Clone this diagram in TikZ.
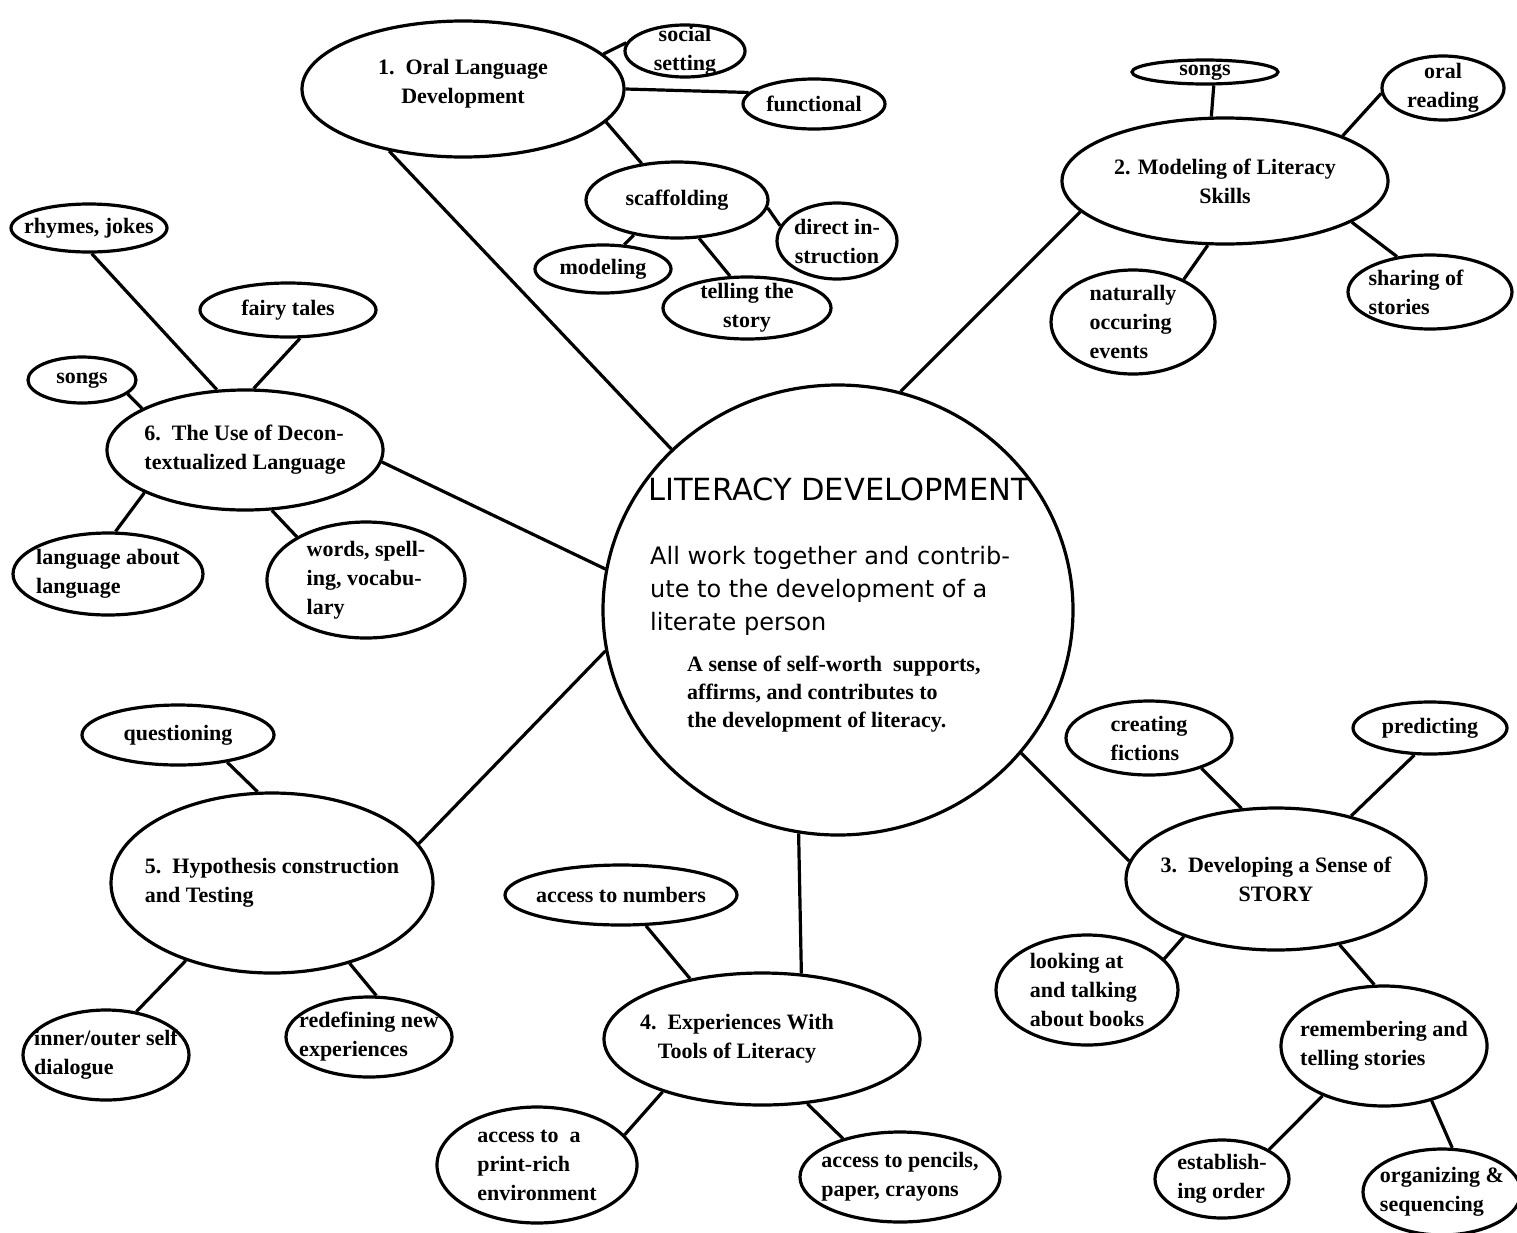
\documentclass[tikz,border=0pt]{standalone}
\usepackage{fontspec}
\setmainfont{Liberation Serif}
\newfontfamily\gothfont{DejaVu Sans}
\usetikzlibrary{shapes.geometric}
\tikzset{
    hubbox/.style={ellipse, draw, line width=3.2pt, inner sep=0pt, minimum width=470, minimum height=450},
    ideabox/.style={ellipse, draw, line width=3.2pt, inner sep=0pt},
    idea/.style={font=\bfseries\fontsize{22}{29}\selectfont, align=center, inner sep=0pt},
    ideal/.style={idea, align=left},
    hubtitle/.style={font=\gothfont\fontsize{30.5}{36}\selectfont, inner sep=0pt},
    hubtext/.style={font=\gothfont\fontsize{24}{33}\selectfont, align=left, inner sep=0pt},
    hubnote/.style={font=\bfseries\fontsize{22}{28}\selectfont, align=left, inner sep=0pt},
    link/.style={line width=3.2pt},
}
\begin{document}
\begin{tikzpicture}[x=1pt, y=-1pt]
    \useasboundingbox (0,0) rectangle (1517,1232);

    \node[hubbox] (lit) at (838,610) {};
    \node[hubtitle, anchor=base west] (littitle) at (648,500) {LITERACY DEVELOPMENT};
    \node[hubtext, anchor=north west] (littext) at (650,546) {All work together and contrib-\\ute to the development of a\\literate person};
    \node[hubnote, anchor=north west] (litnote) at (687,656) {A sense of self-worth\ \ supports,\\affirms, and contributes to\\the development of literacy.};

    \node[ideabox, minimum width=322, minimum height=136, label={[idea, yshift=5]center:{1.\ \ Oral Language\\Development}}] (oral) at (463,89) {};
    \node[ideabox, minimum width=120, minimum height=52, label={[idea]center:{social\\setting}}] (social) at (685,51) {};
    \node[ideabox, minimum width=142, minimum height=50, label={[idea]center:functional}] (func) at (814,104) {};
    \node[ideabox, minimum width=182, minimum height=76, label={[idea]center:scaffolding}] (scaf) at (677,200) {};
    \node[ideabox, minimum width=120, minimum height=76, label={[idea]center:{direct in-\\struction}}] (direct) at (837,241) {};
    \node[ideabox, minimum width=136, minimum height=48, label={[idea]center:modeling}] (modl) at (603,269) {};
    \node[ideabox, minimum width=168, minimum height=62, label={[idea]center:{telling the\\story}}] (tell) at (747,308) {};

    \node[ideabox, minimum width=326, minimum height=126, label={[idea]center:{2. Modeling of Literacy\\Skills}}] (mod) at (1225,181) {};
    \node[ideabox, minimum width=146, minimum height=24, label={[idea]center:songs}] (songsa) at (1205,72) {};
    \node[ideabox, minimum width=122, minimum height=64, label={[idea]center:{oral\\reading}}] (oralrd) at (1443,88) {};
    \node[ideabox, minimum width=164, minimum height=104, label={[ideal]center:{naturally\\occuring\\events}}] (natural) at (1133,322) {};
    \node[ideabox, minimum width=164, minimum height=74, label={[ideal, xshift=-14]center:{sharing of\\stories}}] (sharing) at (1430,292) {};

    \node[ideabox, minimum width=276, minimum height=120, label={[ideal]center:{6.\ \ The Use of Decon-\\textualized Language}}] (decon) at (245,450) {};
    \node[ideabox, minimum width=156, minimum height=48, label={[idea]center:{rhymes, jokes}}] (rhymes) at (89,228) {};
    \node[ideabox, minimum width=176, minimum height=54, label={[idea]center:{fairy tales}}] (fairy) at (288,310) {};
    \node[ideabox, minimum width=108, minimum height=46, label={[idea]center:songs}] (songsb) at (82,380) {};
    \node[ideabox, minimum width=190, minimum height=82, label={[ideal]center:{language about\\language}}] (langab) at (108,574) {};
    \node[ideabox, minimum width=198, minimum height=116, label={[ideal]center:{words, spell-\\ing, vocabu-\\lary}}] (words) at (366,580) {};

    \node[ideabox, minimum width=322, minimum height=180, label={[ideal]center:{5.\ \ Hypothesis construction\\and Testing}}] (hypo) at (272,883) {};
    \node[ideabox, minimum width=192, minimum height=60, label={[idea]center:questioning}] (quest) at (178,735) {};
    \node[ideabox, minimum width=166, minimum height=90, label={[ideal]center:{inner/outer self\\dialogue}}] (inner) at (106,1055) {};
    \node[ideabox, minimum width=166, minimum height=80, label={[ideal]center:{redefining new\\experiences}}] (redef) at (369,1037) {};

    \node[ideabox, minimum width=316, minimum height=132, label={[idea, xshift=-25]center:{4.\ \ Experiences With\\Tools of Literacy}}] (exper) at (762,1039) {};
    \node[ideabox, minimum width=232, minimum height=60, label={[idea]center:{access to numbers}}] (numbers) at (621,895) {};
    \node[ideabox, minimum width=200, minimum height=116, label={[ideal]center:{access to\ \ a\\print-rich\\environment}}] (printrich) at (537,1165) {};
    \node[ideabox, minimum width=200, minimum height=90, label={[ideal]center:{access to pencils,\\paper, crayons}}] (pencils) at (900,1177) {};

    \node[ideabox, minimum width=300, minimum height=142, label={[idea]center:{3.\ \ Developing a Sense of\\STORY}}] (story) at (1276,879) {};
    \node[ideabox, minimum width=166, minimum height=74, label={[ideal]center:{creating\\fictions}}] (creat) at (1149,738) {};
    \node[ideabox, minimum width=154, minimum height=52, label={[idea]center:predicting}] (pred) at (1430,728) {};
    \node[ideabox, minimum width=182, minimum height=110, label={[ideal]center:{looking at\\and talking\\about books}}] (looking) at (1087,990) {};
    \node[ideabox, minimum width=206, minimum height=120, label={[ideal]center:{remembering and\\telling stories}}] (remem) at (1384,1046) {};
    \node[ideabox, minimum width=134, minimum height=78, label={[ideal]center:{establish-\\ing order}}] (estab) at (1222,1179) {};
    \node[ideabox, minimum width=158, minimum height=86, label={[ideal]center:{organizing \&\\sequencing}}] (organ) at (1442,1192) {};

    \draw[link] (oral.220) -- (lit.136);
    \draw[link] (oral.14) -- (social.172);
    \draw[link] (oral.0) -- (func.170);
    \draw[link] (oral.-13) -- (scaf.134);
    \draw[link] (scaf.-5) -- (direct.165);
    \draw[link] (scaf.219) -- (modl.49);
    \draw[link] (scaf.-60) -- (tell.118);

    \draw[link] (lit.74) -- (mod.192);
    \draw[link] (songsa.-57) -- (mod.102);
    \draw[link] (mod.21) -- (oralrd.185);
    \draw[link] (mod.255) -- (natural.40);
    \draw[link] (mod.-18) -- (sharing.133);

    \draw[link] (decon.-5) -- (lit.170);
    \draw[link] (rhymes.-84) -- (decon.115);
    \draw[link] (fairy.-67) -- (decon.82);
    \draw[link] (songsb.-17) -- (decon.158);
    \draw[link] (decon.203) -- (langab.80);
    \draw[link] (decon.-66) -- (words.148);

    \draw[link] (lit.190) -- (hypo.15);
    \draw[link] (quest.-29) -- (hypo.99);
    \draw[link] (hypo.222) -- (inner.55);
    \draw[link] (hypo.-46) -- (redef.80);

    \draw[link] (lit.260.5) -- (exper.59);
    \draw[link] (numbers.-51) -- (exper.140);
    \draw[link] (exper.208) -- (printrich.19);
    \draw[link] (exper.-55) -- (pencils.146);

    \draw[link] (lit.-38) -- (story.173);
    \draw[link] (creat.-30) -- (story.116);
    \draw[link] (pred.240) -- (story.40);
    \draw[link] (story.212) -- (looking.22);
    \draw[link] (story.-46) -- (remem.99);
    \draw[link] (remem.219) -- (estab.32);
    \draw[link] (remem.-49) -- (organ.77);
\end{tikzpicture}
\end{document}
